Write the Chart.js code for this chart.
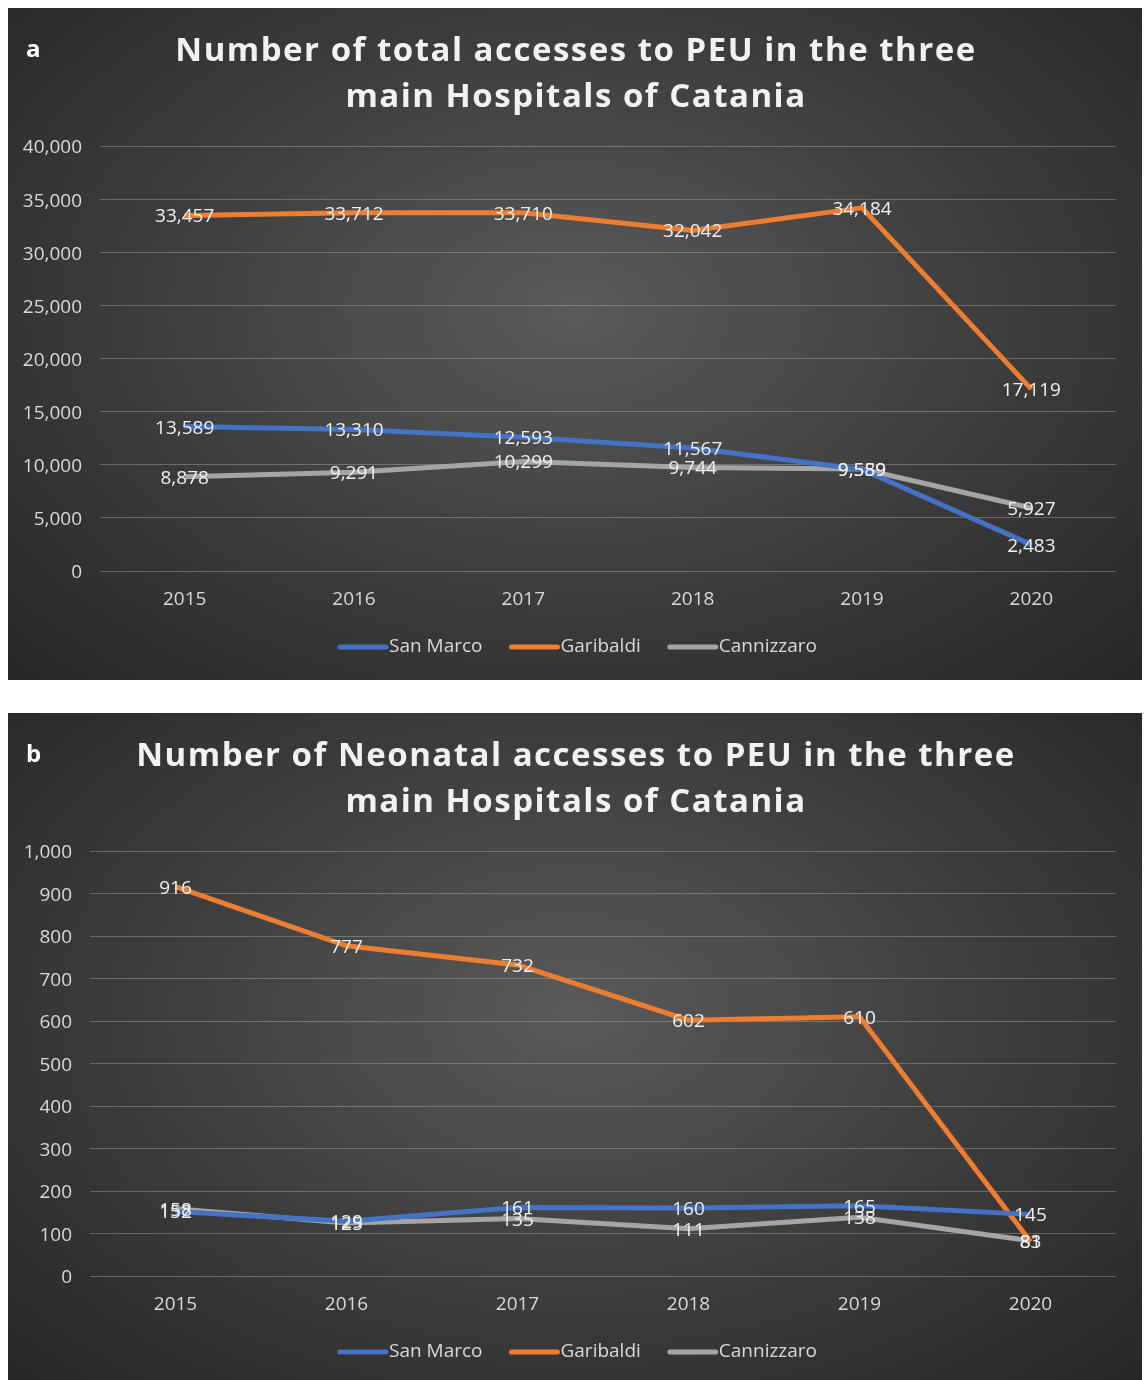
<!DOCTYPE html>
<html lang="en">
<head>
    <meta charset="UTF-8">
    <title>PEU accesses Catania</title>
    <script src="https://cdn.jsdelivr.net/npm/chart.js"></script>
    <style>
        body { margin: 0; background: #fff; width: 1147px; height: 1380px; position: relative; font-family: "Open Sans", sans-serif; }
        .panel {
            position: absolute; left: 8px; width: 1134px;
            background: radial-gradient(ellipse at 50% 45%, #5a5a5a 0%, #3c3c3c 55%, #262626 100%);
        }
        #panelA { top: 8px; height: 672px; }
        #panelB { top: 713px; height: 667px; }
        .tag { position: absolute; left: 18px; top: 23px; color: #fff; font-weight: 700; font-size: 24px; }
    </style>
</head>
<body>
    <div class="panel" id="panelA"><span class="tag">a</span><canvas id="totalChart"></canvas></div>
    <div class="panel" id="panelB"><span class="tag">b</span><canvas id="neoChart"></canvas></div>

    <script>
        const years = ['2015', '2016', '2017', '2018', '2019', '2020'];
        const seriesNames = ['San Marco', 'Garibaldi', 'Cannizzaro'];
        const seriesColors = ['#4472C4', '#ED7D31', '#A5A5A5'];

        // panel a - total accesses
        const sanMarcoTotal = [13589, 13310, 12593, 11567, 9559, 2483];
        const garibaldiTotal = [33457, 33712, 33710, 32042, 34184, 17119];
        const cannizzaroTotal = [8878, 9291, 10299, 9744, 9589, 5927];

        // panel b - neonatal accesses
        const sanMarcoNeo = [152, 129, 161, 160, 165, 145];
        const garibaldiNeo = [916, 777, 732, 602, 610, 81];
        const cannizzaroNeo = [158, 125, 135, 111, 138, 83];

        const fmt = v => v.toLocaleString('en-US');
        const TITLE_SIZE = 33, TITLE_LH = 46, TITLE_PAD = 18;

        // value labels centred on the points
        const pointLabels = {
            id: 'pointLabels',
            afterDatasetsDraw(chart) {
                const ctx = chart.ctx;
                ctx.save();
                ctx.font = '19px "Open Sans"';
                ctx.fillStyle = '#f0f0f0';
                ctx.textAlign = 'center';
                ctx.textBaseline = 'middle';
                chart.data.datasets.forEach((ds, i) => {
                    chart.getDatasetMeta(i).data.forEach((pt, j) => {
                        ctx.fillText(fmt(ds.data[j]), pt.x, pt.y + 1.5);
                    });
                });
                ctx.restore();
            }
        };

        // title with letter spacing (the built-in title only reserves the space)
        const spacedTitle = {
            id: 'spacedTitle',
            afterDraw(chart) {
                const tb = chart.titleBlock;
                const lines = chart.options.plugins.title.text;
                const ctx = chart.ctx;
                ctx.save();
                ctx.font = 'bold ' + TITLE_SIZE + 'px "Open Sans"';
                ctx.letterSpacing = '1.5px';
                ctx.fillStyle = '#f2f2f2';
                ctx.textAlign = 'center';
                ctx.textBaseline = 'middle';
                lines.forEach((l, i) => {
                    ctx.fillText(l, chart.width / 2 + 1, tb.top + TITLE_PAD + TITLE_LH * (i + 0.5) + 2.5);
                });
                ctx.restore();
            }
        };

        // Excel-like legend: short line, text right after it
        const lineLegend = {
            id: 'lineLegend',
            afterDraw(chart) {
                const ctx = chart.ctx;
                const items = chart.data.datasets;
                const boxW = 52, gap = 26;
                ctx.save();
                ctx.font = '19px "Open Sans"';
                const widths = items.map(ds => ctx.measureText(ds.label).width);
                const total = widths.reduce((a, w) => a + boxW + w, 0) + gap * (items.length - 1);
                let x = chart.width / 2 + 2 - total / 2;
                const y = chart.chartArea.bottom + 76;
                ctx.textBaseline = 'middle';
                ctx.textAlign = 'left';
                items.forEach((ds, i) => {
                    ctx.strokeStyle = ds.borderColor;
                    ctx.lineWidth = 5;
                    ctx.lineCap = 'round';
                    ctx.beginPath();
                    ctx.moveTo(x + 3, y);
                    ctx.lineTo(x + boxW - 3, y);
                    ctx.stroke();
                    ctx.fillStyle = '#d9d9d9';
                    ctx.fillText(ds.label, x + boxW, y);
                    x += boxW + widths[i] + gap;
                });
                ctx.restore();
            }
        };

        function makeChart(id, titleLines, data, maxY, step, yWidth, bottomPad) {
            const ctx = document.getElementById(id).getContext('2d');
            new Chart(ctx, {
                type: 'line',
                data: {
                    labels: years,
                    datasets: data.map((d, i) => ({
                        label: seriesNames[i],
                        data: d,
                        borderColor: seriesColors[i],
                        backgroundColor: seriesColors[i],
                        borderWidth: 5,
                        pointRadius: 0,
                        tension: 0,
                        fill: false
                    }))
                },
                options: {
                    responsive: true,
                    maintainAspectRatio: false,
                    animation: false,
                    layout: { padding: { left: 0, right: 26, top: 0, bottom: bottomPad } },
                    plugins: {
                        title: {
                            display: true,
                            text: titleLines,
                            color: 'rgba(0,0,0,0)',
                            font: { family: 'Open Sans', size: TITLE_SIZE, weight: 'bold', lineHeight: TITLE_LH / TITLE_SIZE },
                            padding: { top: TITLE_PAD, bottom: 28 }
                        },
                        legend: { display: false },
                        tooltip: { enabled: false }
                    },
                    scales: {
                        x: {
                            offset: true,
                            grid: { display: false },
                            border: { display: false },
                            afterFit: s => { s.height = 40; },
                            ticks: { color: '#d9d9d9', font: { family: 'Open Sans', size: 19 }, padding: 9 }
                        },
                        y: {
                            min: 0,
                            max: maxY,
                            border: { display: false },
                            grid: { color: 'rgba(217,217,217,0.3)', drawTicks: false },
                            afterFit: s => { s.width = yWidth; },
                            ticks: {
                                stepSize: step,
                                color: '#d9d9d9',
                                font: { family: 'Open Sans', size: 19 },
                                padding: 18,
                                labelOffset: 2,
                                callback: v => fmt(v)
                            }
                        }
                    }
                },
                plugins: [pointLabels, spacedTitle, lineLegend]
            });
        }

        makeChart('totalChart',
            ['Number of total accesses to PEU in the three', 'main Hospitals of Catania'],
            [sanMarcoTotal, garibaldiTotal, cannizzaroTotal], 40000, 5000, 92, 69);
        makeChart('neoChart',
            ['Number of Neonatal accesses to PEU in the three', 'main Hospitals of Catania'],
            [sanMarcoNeo, garibaldiNeo, cannizzaroNeo], 1000, 100, 82, 64);
    </script>
</body>
</html>
